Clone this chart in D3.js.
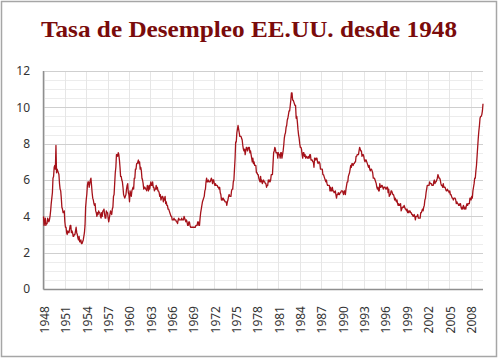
<!DOCTYPE html>
<html><head><meta charset="utf-8">
<script src="https://cdn.jsdelivr.net/npm/d3@7/dist/d3.min.js"></script>
<style>body{margin:0;background:#fff}</style></head>
<body><svg id="chart" width="500" height="360"></svg>
<script>
const chartTitle = "Tasa de Desempleo EE.UU. desde 1948";
const startYear = 1948;
const yTicks = [0, 2, 4, 6, 8, 10, 12];
const xTickLabels = ["1948","1951","1954","1957","1960","1963","1966","1969","1972","1975","1978","1981","1984","1987","1990","1993","1996","1999","2002","2005","2008"];

// Monthly unemployment rate (%), Jan 1948 onwards
const rate1948to1957 = [
  4.0,3.5,3.7,3.9,3.5,3.6,3.6,3.9,3.8,3.7,3.8,4.0,
  4.3,4.7,5.0,5.3,6.1,6.2,6.7,6.8,6.6,7.9,6.4,6.6,
  6.5,6.4,6.3,5.8,5.5,5.4,5.0,4.5,4.4,4.2,4.2,4.3,
  3.7,3.4,3.4,3.1,3.0,3.2,3.1,3.1,3.3,3.5,3.5,3.1,
  3.2,3.1,2.9,2.9,3.0,3.0,3.2,3.4,3.1,3.0,2.8,2.7,
  2.9,2.6,2.6,2.7,2.5,2.5,2.6,2.7,2.9,3.1,3.5,4.5,
  4.9,5.2,5.7,5.9,5.9,5.6,5.8,6.0,6.1,5.7,5.3,5.0,
  4.9,4.7,4.6,4.7,4.3,4.2,4.0,4.2,4.1,4.3,4.2,4.2,
  4.0,3.9,4.2,4.0,4.3,4.3,4.4,4.1,3.9,3.9,4.3,4.2,
  4.2,3.9,3.7,3.9,4.1,4.3,4.2,4.1,4.4,4.5,5.1,5.2
];
const rate1958to1967 = [
  5.8,6.4,6.7,7.4,7.4,7.3,7.5,7.4,7.1,6.7,6.2,6.2,
  6.0,5.9,5.6,5.2,5.1,5.0,5.1,5.2,5.5,5.7,5.8,5.3,
  5.2,4.8,5.4,5.2,5.1,5.4,5.5,5.6,5.5,6.1,6.1,6.6,
  6.6,6.9,6.9,7.0,7.1,6.9,7.0,6.6,6.7,6.5,6.1,6.0,
  5.8,5.5,5.6,5.6,5.5,5.5,5.4,5.7,5.6,5.4,5.7,5.5,
  5.7,5.9,5.7,5.7,5.9,5.6,5.6,5.4,5.5,5.5,5.7,5.5,
  5.6,5.4,5.4,5.3,5.1,5.2,4.9,5.0,5.1,5.1,4.8,5.0,
  4.9,5.1,4.7,4.8,4.6,4.6,4.4,4.4,4.3,4.2,4.1,4.0,
  4.0,3.8,3.8,3.8,3.9,3.8,3.8,3.8,3.7,3.7,3.6,3.8,
  3.9,3.8,3.8,3.8,3.8,3.9,3.8,3.8,3.8,4.0,3.9,3.8
];
const rate1968to1977 = [
  3.7,3.8,3.7,3.5,3.5,3.7,3.7,3.5,3.4,3.4,3.4,3.4,
  3.4,3.4,3.4,3.4,3.4,3.5,3.5,3.5,3.7,3.7,3.5,3.5,
  3.9,4.2,4.4,4.6,4.8,4.9,5.0,5.1,5.4,5.5,5.9,6.1,
  5.9,5.9,6.0,5.9,5.9,5.9,6.0,6.1,6.0,5.8,6.0,6.0,
  5.8,5.7,5.8,5.7,5.7,5.7,5.6,5.6,5.5,5.6,5.3,5.2,
  4.9,5.0,4.9,5.0,4.9,4.9,4.8,4.8,4.8,4.6,4.8,4.9,
  5.1,5.2,5.1,5.1,5.1,5.4,5.5,5.5,5.9,6.0,6.6,7.2,
  8.1,8.1,8.6,8.8,9.0,8.8,8.6,8.4,8.4,8.4,8.3,8.2,
  7.9,7.7,7.6,7.7,7.4,7.6,7.8,7.8,7.6,7.7,7.8,7.8,
  7.5,7.6,7.4,7.2,7.0,7.2,6.9,7.0,6.8,6.8,6.8,6.4
];
const rate1978to1987 = [
  6.4,6.3,6.3,6.1,6.0,5.9,6.2,5.9,6.0,5.8,5.9,6.0,
  5.9,5.9,5.8,5.8,5.6,5.7,5.7,6.0,5.9,6.0,5.9,6.0,
  6.3,6.3,6.3,6.9,7.5,7.6,7.8,7.7,7.5,7.5,7.5,7.2,
  7.5,7.4,7.4,7.2,7.5,7.5,7.2,7.4,7.6,7.9,8.3,8.5,
  8.6,8.9,9.0,9.3,9.4,9.6,9.8,9.8,10.1,10.4,10.8,10.8,
  10.4,10.4,10.3,10.2,10.1,10.1,9.4,9.5,9.2,8.8,8.5,8.3,
  8.0,7.8,7.8,7.7,7.4,7.2,7.5,7.5,7.3,7.4,7.2,7.3,
  7.3,7.2,7.2,7.3,7.2,7.4,7.4,7.1,7.1,7.1,7.0,7.0,
  6.7,7.2,7.2,7.1,7.2,7.2,7.0,6.9,7.0,7.0,6.9,6.6,
  6.6,6.6,6.6,6.3,6.3,6.2,6.1,6.0,5.9,6.0,5.8,5.7
];
const rate1988to1997 = [
  5.7,5.7,5.7,5.4,5.6,5.4,5.4,5.6,5.4,5.4,5.3,5.3,
  5.4,5.2,5.0,5.2,5.2,5.3,5.2,5.2,5.3,5.3,5.4,5.4,
  5.4,5.3,5.2,5.4,5.4,5.2,5.5,5.7,5.9,5.9,6.2,6.3,
  6.4,6.6,6.8,6.7,6.9,6.9,6.8,6.9,6.9,7.0,7.0,7.3,
  7.3,7.4,7.4,7.4,7.6,7.8,7.7,7.6,7.6,7.3,7.4,7.4,
  7.3,7.1,7.0,7.1,7.1,7.0,6.9,6.8,6.7,6.8,6.6,6.5,
  6.6,6.6,6.5,6.4,6.1,6.1,6.1,6.0,5.9,5.8,5.6,5.5,
  5.6,5.4,5.4,5.8,5.6,5.6,5.7,5.7,5.6,5.5,5.6,5.6,
  5.6,5.5,5.5,5.6,5.6,5.3,5.5,5.1,5.2,5.2,5.4,5.4,
  5.3,5.2,5.2,5.1,4.9,5.0,4.9,4.8,4.9,4.7,4.6,4.7
];
const rate1998to2009 = [
  4.6,4.6,4.7,4.3,4.4,4.5,4.5,4.5,4.6,4.5,4.4,4.4,
  4.3,4.4,4.2,4.3,4.2,4.3,4.3,4.2,4.2,4.1,4.1,4.0,
  4.0,4.1,4.0,3.8,4.0,4.0,4.0,4.1,3.9,3.9,3.9,3.9,
  4.2,4.2,4.3,4.4,4.3,4.5,4.6,4.9,5.0,5.3,5.5,5.7,
  5.7,5.7,5.7,5.9,5.8,5.8,5.8,5.7,5.7,5.7,5.9,6.0,
  5.8,5.9,5.9,6.0,6.1,6.3,6.2,6.1,6.1,6.0,5.8,5.7,
  5.7,5.6,5.8,5.6,5.6,5.6,5.5,5.4,5.4,5.5,5.4,5.4,
  5.3,5.4,5.2,5.2,5.1,5.0,5.0,4.9,5.0,5.0,5.0,4.9,
  4.7,4.8,4.7,4.7,4.6,4.6,4.7,4.7,4.5,4.4,4.5,4.4,
  4.6,4.5,4.4,4.5,4.4,4.6,4.7,4.6,4.7,4.7,4.7,5.0,
  5.0,4.9,5.1,5.0,5.4,5.6,5.8,6.1,6.1,6.5,6.8,7.3,
  7.8,8.3,8.7,9.0,9.4,9.5,9.5,9.6,9.8,10.2
];

const rates = [].concat(rate1948to1957, rate1958to1967, rate1968to1977, rate1978to1987, rate1988to1997, rate1998to2009);
const data = rates.map((v, i) => ({t: startYear + i / 12, v}));

const svg = d3.select("#chart");
const L = 43.5, R = 483, T = 71, B = 289;

svg.append("rect").attr("x", 1.5).attr("y", 1.5).attr("width", 495).attr("height", 355)
  .attr("fill", "#fff").attr("stroke", "#a6a6a6").attr("stroke-width", 1.5);

svg.append("text").attr("x", 249).attr("y", 37).attr("text-anchor", "middle")
  .attr("font-family", "Liberation Serif, serif").attr("font-weight", "bold")
  .attr("font-size", 23).attr("fill", "#7a0b0b")
  .attr("textLength", 416).attr("lengthAdjust", "spacingAndGlyphs")
  .text(chartTitle);

const x = d3.scaleLinear().domain([startYear, d3.max(data, d => d.t)]).range([L, R]);
const y = d3.scaleLinear().domain([0, 12]).range([B, T]);

const g = svg.append("g");
// minor horizontal grid
g.selectAll(".minor").data(d3.range(0.5, 12, 0.5).filter(v => v % 2 !== 0)).join("line")
  .attr("x1", L).attr("x2", R).attr("y1", d => Math.round(y(d)) + 0.5).attr("y2", d => Math.round(y(d)) + 0.5)
  .attr("stroke", "#ececec");
// vertical grid
g.selectAll(".vg").data(xTickLabels).join("line")
  .attr("x1", d => Math.round(x(+d)) + 0.5).attr("x2", d => Math.round(x(+d)) + 0.5)
  .attr("y1", T).attr("y2", B)
  .attr("stroke", "#e6e6e6");
// major horizontal grid
g.selectAll(".major").data(yTicks.filter(v => v > 0)).join("line")
  .attr("x1", L).attr("x2", R).attr("y1", d => Math.round(y(d)) + 0.5).attr("y2", d => Math.round(y(d)) + 0.5)
  .attr("stroke", "#cfcfcf").attr("stroke-width", 1.2);

// axes lines
svg.append("line").attr("x1", L).attr("x2", L).attr("y1", T).attr("y2", B + 0.5).attr("stroke", "#8f8f8f").attr("stroke-width", 1.5);
svg.append("line").attr("x1", L).attr("x2", R).attr("y1", B + 0.5).attr("y2", B + 0.5).attr("stroke", "#8f8f8f").attr("stroke-width", 1.5);

// y labels
svg.selectAll(".yl").data(yTicks).join("text")
  .attr("x", 30).attr("y", d => y(d)).attr("dy", "0.36em").attr("text-anchor", "end")
  .attr("font-family", "Noto Sans, sans-serif").attr("font-size", 12).attr("fill", "#333")
  .text(d => d);

// x labels
svg.selectAll(".xl").data(xTickLabels).join("text")
  .attr("transform", d => `translate(${x(+d) + 1},306) rotate(-90)`)
  .attr("dy", "0.36em").attr("text-anchor", "end")
  .attr("font-family", "Noto Sans, sans-serif").attr("font-size", 12).attr("fill", "#333")
  .text(d => d);

// line
svg.append("path").datum(data)
  .attr("fill", "none").attr("stroke", "#a5121a").attr("stroke-width", 1.3).attr("stroke-linejoin", "round")
  .attr("d", d3.line().x(d => x(d.t)).y(d => y(d.v)));
</script></body></html>
